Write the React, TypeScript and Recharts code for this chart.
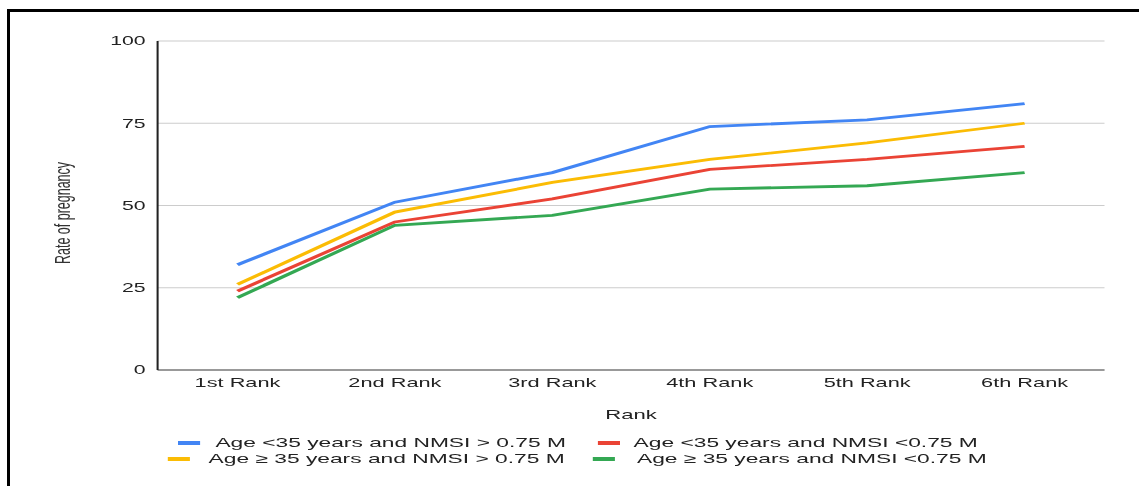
import { CartesianGrid, Legend, Line, LineChart, XAxis, YAxis } from "recharts";

const RANKS = ["1st Rank", "2nd Rank", "3rd Rank", "4th Rank", "5th Rank", "6th Rank"];
const YOUNG_HIGH = [32, 51, 60, 74, 76, 81];
const YOUNG_LOW = [24, 45, 52, 61, 64, 68];
const OLD_HIGH = [26, 48, 57, 64, 69, 75];
const OLD_LOW = [22, 44, 47, 55, 56, 60];
const Y_TICKS = [0, 25, 50, 75, 100];

const SERIES = [
  { key: "youngHigh", name: "Age <35 years and NMSI > 0.75 M", color: "#4285F4", values: YOUNG_HIGH },
  { key: "youngLow", name: "Age <35 years and NMSI <0.75 M", color: "#EA4335", values: YOUNG_LOW },
  { key: "oldHigh", name: "Age \u2265 35 years and NMSI > 0.75 M", color: "#FBBC04", values: OLD_HIGH },
  { key: "oldLow", name: "Age \u2265 35 years and NMSI <0.75 M", color: "#34A853", values: OLD_LOW },
];

const data = RANKS.map((rank, i) => {
  const row: Record<string, number | string> = { rank };
  SERIES.forEach((s) => {
    row[s.key] = s.values[i];
  });
  return row;
});

// the source picture is stretched sideways, so the chart is drawn narrow and scaled
const STRETCH = 1.7;
const W = 660;
const H = 470;
const FONT = "'Liberation Sans', Arial, sans-serif";

// legend slot per series (pre-stretch px): swatch left, text left, row centre
const SLOTS: Record<string, { swatch: number; text: number; y: number }> = {
  youngHigh: { swatch: 100, text: 122, y: 435 },
  youngLow: { swatch: 347, text: 368, y: 435 },
  oldHigh: { swatch: 94, text: 118, y: 451 },
  oldLow: { swatch: 344, text: 370, y: 451 },
};

function LegendBox({ payload }: any) {
  return (
    <div style={{ position: "relative", width: W, height: H }}>
      {(payload || []).map((p: any) => {
        const s = SERIES.find((x) => x.name === p.value);
        if (!s) return null;
        const slot = SLOTS[s.key];
        return (
          <div key={s.key}>
            <div
              style={{
                position: "absolute",
                left: slot.swatch,
                top: slot.y - 2,
                width: 13,
                height: 4,
                background: s.color,
              }}
            />
            <div
              style={{
                position: "absolute",
                left: slot.text,
                top: slot.y - 9,
                lineHeight: "18px",
                fontSize: 13.4,
                fontFamily: FONT,
                color: "#222",
                whiteSpace: "nowrap",
              }}
            >
              {p.value}
            </div>
          </div>
        );
      })}
    </div>
  );
}

function YTitle({ viewBox }: any) {
  const x = viewBox.x + 32;
  const y = 205;
  return (
    <text
      x={x}
      y={y}
      transform={`rotate(-90 ${x} ${y})`}
      textAnchor="middle"
      dominantBaseline="central"
      fontSize={12.5}
      fontFamily={FONT}
      fill="#333"
    >
      Rate of pregnancy
    </text>
  );
}

export default function App() {
  return (
    <div style={{ position: "relative", width: 1123, height: H, overflow: "hidden" }}>
      <div
        style={{
          position: "fixed",
          left: 7,
          top: 9,
          right: -20,
          bottom: -20,
          borderLeft: "3px solid #000",
          borderTop: "3px solid #000",
          pointerEvents: "none",
        }}
      />
      <div style={{ width: W, height: H, transform: `scale(${STRETCH}, 1)`, transformOrigin: "0 0" }}>
        <LineChart width={W} height={H} data={data} margin={{ top: 33, right: 15, bottom: 48, left: 0 }}>
          <CartesianGrid vertical={false} stroke="#cccccc" />
          <XAxis
            dataKey="rank"
            padding={{ left: 47, right: 47 }}
            interval={0}
            height={60}
            tickLine={false}
            tickSize={0}
            tickMargin={8}
            axisLine={{ stroke: "#999", strokeWidth: 2 }}
            tick={{ fill: "#222", fontSize: 12.8, fontFamily: FONT }}
            label={{
              value: "Rank",
              position: "insideBottom",
              offset: 11,
              fill: "#222",
              fontSize: 13,
              fontFamily: FONT,
            }}
          />
          <YAxis
            domain={[0, 100]}
            ticks={Y_TICKS}
            width={88}
            tickLine={false}
            tickSize={0}
            tickMargin={7}
            axisLine={{ stroke: "#222", strokeWidth: 1.2 }}
            tick={{ fill: "#222", fontSize: 12.5, fontFamily: FONT }}
            label={<YTitle />}
          />
          <Legend
            verticalAlign="middle"
            align="center"
            layout="horizontal"
            wrapperStyle={{ left: 0, top: 0, width: W, height: H }}
            content={<LegendBox />}
          />
          {SERIES.map((s) => (
            <Line
              key={s.key}
              type="linear"
              dataKey={s.key}
              name={s.name}
              stroke={s.color}
              strokeWidth={2.8}
              dot={false}
              activeDot={false}
              isAnimationActive={false}
            />
          ))}
        </LineChart>
      </div>
    </div>
  );
}
